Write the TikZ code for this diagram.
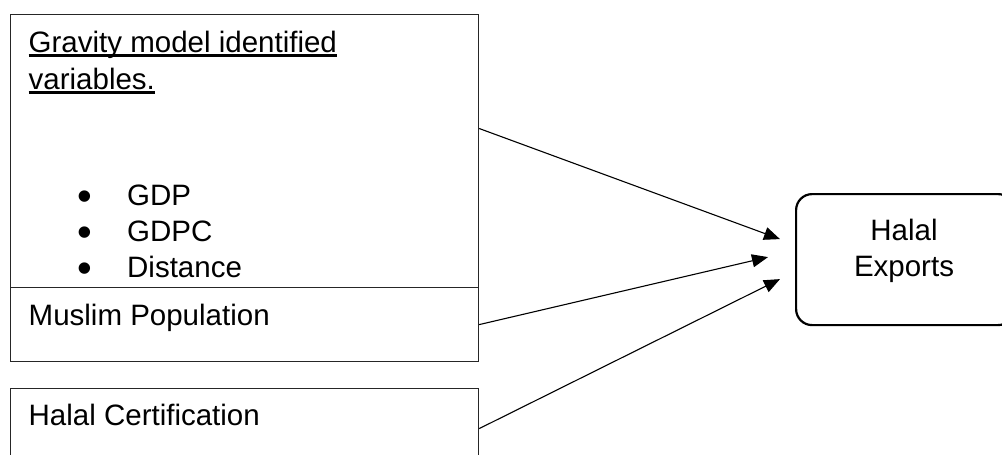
\documentclass[tikz,border=0pt]{standalone}
\usepackage{fontspec}
\setmainfont{Liberation Sans}
\newcommand\undl[1]{\setbox0\hbox{#1}\rlap{\rule[-4.2pt]{\wd0}{2.6pt}}\box0}
\usetikzlibrary{arrows.meta,calc,positioning}

\begin{document}
\begin{tikzpicture}[x=1pt,y=-1pt,
    varbox/.style={draw=black!85,line width=1.2pt,rectangle,inner sep=0pt,anchor=north west,minimum width=468pt},
    outbox/.style={draw,line width=2.2pt,rounded corners=16pt,inner sep=0pt,anchor=north west,minimum width=218pt,minimum height=131pt},
    lbl/.style={anchor=base west,inner sep=0pt,font=\fontsize{29.5}{36}\selectfont},
    dot/.style={anchor=base,inner sep=0pt,text height=14pt,text depth=0pt,font=\fontsize{42}{36}\selectfont},
    link/.style={-{Triangle[length=16pt,width=13pt]},line width=1.1pt}]
    \useasboundingbox (0,0) rectangle (1002,455);

    % input boxes
    \node[varbox,minimum height=273pt] (gravity) at (10,14) {};
    \node[varbox,minimum height=74pt] (muslim) at (10,287) {};
    \node[varbox,minimum height=80pt] (cert) at (10,388) {};

    % texts of the input boxes
    \node[lbl] (gravtitle) at (28.5,52.5) {\undl{Gravity model identified}};
    \node[lbl] (gravtitleb) at (28.5,89.5) {\undl{variables.}};
    \node[dot] (bgdp) at (85,210) {•};
    \node[lbl] (gdp) at (127,205) {GDP};
    \node[dot] (bgdpc) at (85,246) {•};
    \node[lbl] (gdpc) at (127,241) {GDPC};
    \node[dot] (bdist) at (85,282) {•};
    \node[lbl] (dist) at (127,277) {Distance};
    \node[lbl] (muslimtext) at (28.5,325) {Muslim Population};
    \node[lbl] (certtext) at (28.5,425) {Halal Certification};

    % output box
    \node[outbox] (exports) at (795,193) {};
    \node[lbl,anchor=base] (halal) at (904,240) {Halal};
    \node[lbl,anchor=base] (exportstext) at (904,276) {Exports};

    % arrow ends
    \coordinate (endgrav) at ($(exports.west)+(-15,-20.5)$);
    \coordinate (endmuslim) at ($(exports.west)+(-27,-2.5)$);
    \coordinate (endcert) at ($(exports.west)+(-15,19.5)$);

    \draw[link] ($(gravity.north east)!0.4176!(gravity.south east)$) -- (endgrav);
    \draw[link] (muslim.east) -- (endmuslim);
    \draw[link] (cert.east) -- (endcert);
\end{tikzpicture}
\end{document}
